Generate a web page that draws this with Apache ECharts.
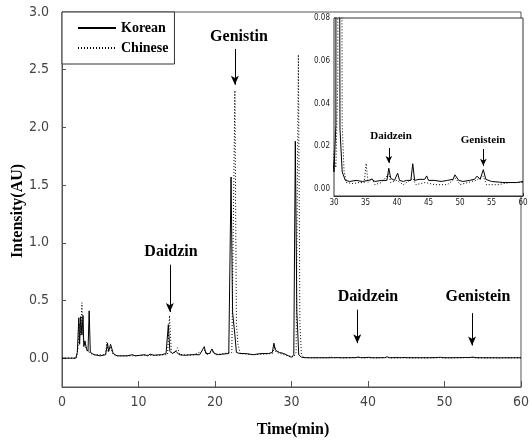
<!DOCTYPE html>
<html>
<head>
<meta charset="utf-8">
<script src="https://cdn.jsdelivr.net/npm/echarts@6/dist/echarts.min.js"></script>
<style>html,body{margin:0;padding:0;background:#fff}#c{width:532px;height:443px}</style>
</head>
<body>
<div id="c"></div>
<script>
// Korean (solid) chromatogram: [time(min), intensity(AU)]
const korean = [
 [0,0],[1.8,0],[2.0,0.05],[2.2,0.35],[2.3,0.12],[2.45,0.36],[2.6,0.2],[2.75,0.37],[2.85,0.1],[3.0,0.15],[3.2,0.08],
 [3.4,0.06],[3.55,0.41],[3.7,0.05],[4.2,0.03],[5.0,0.02],[5.7,0.03],[5.95,0.13],[6.1,0.06],[6.35,0.12],[6.7,0.04],
 [7.2,0.02],[8.5,0.02],[9.2,0.03],[9.6,0.02],[10.8,0.03],[11.2,0.02],[11.5,0.035],[12,0.025],[13,0.03],[13.6,0.04],
 [13.9,0.29],[14.1,0.06],[14.4,0.04],[14.9,0.06],[15.3,0.03],[16,0.025],[17,0.03],[18,0.03],[18.6,0.1],[18.8,0.04],
 [19.3,0.04],[19.6,0.08],[19.9,0.04],[20.5,0.03],[21,0.035],[21.8,0.04],[22.1,1.57],[22.3,0.4],[22.6,0.2],[22.8,0.05],
 [23.2,0.04],[24,0.04],[25,0.03],[26,0.04],[27,0.04],[27.5,0.05],[27.7,0.13],[27.9,0.07],[28.4,0.05],[29,0.04],
 [29.6,0.02],[30.0,0.008],[30.3,0.03],[30.5,1.88],[30.7,0.4],[30.95,0.028],[31.3,0.008],[31.8,0.004],[32.5,0.0035],
 [33.5,0.004],[34.5,0.0035],[35.5,0.004],[36,0.0045],[36.5,0.0035],[37.5,0.004],[38.4,0.004],[38.7,0.0097],[39,0.005],
 [39.6,0.004],[40.1,0.0074],[40.4,0.004],[41,0.0035],[41.5,0.004],[42.2,0.004],[42.5,0.0118],[42.8,0.004],[43.5,0.0045],
 [44.4,0.0045],[44.7,0.0061],[45,0.004],[46,0.004],[47,0.0035],[48,0.004],[48.9,0.0045],[49.2,0.0066],[49.5,0.0074],
 [49.8,0.004],[50.5,0.0035],[51.5,0.004],[52.3,0.0045],[52.7,0.006],[53.2,0.0045],[53.7,0.009],[54.1,0.0045],[55,0.0035],
 [57,0.003],[59,0.003],[60,0.0035]
];
// Chinese (dotted) chromatogram
const chinese = [
 [0,0],[1.9,0],[2.1,0.1],[2.3,0.3],[2.45,0.2],[2.6,0.48],[2.8,0.15],[3.0,0.12],[3.3,0.06],[3.6,0.05],[4,0.03],
 [5.7,0.03],[5.85,0.14],[6.05,0.05],[6.3,0.1],[6.6,0.04],[7,0.02],[9,0.02],[11,0.025],[12.5,0.025],[13.8,0.03],
 [14.05,0.37],[14.3,0.05],[14.8,0.05],[15.1,0.09],[15.4,0.03],[17,0.025],[18.7,0.07],[19,0.03],[19.8,0.06],[20.1,0.03],
 [22.2,0.05],[22.6,2.32],[22.8,0.3],[23.0,0.12],[23.3,0.04],[25,0.03],[27.5,0.04],[27.8,0.1],[28,0.05],[29,0.03],
 [30.3,0.01],[30.6,0.05],[30.9,2.63],[31.1,0.3],[31.3,0.03],[31.6,0.008],[32,0.003],[33,0.0025],[34,0.003],[34.8,0.003],
 [35.1,0.012],[35.4,0.003],[36,0.005],[36.5,0.002],[37.5,0.003],[38.7,0.007],[39,0.003],[40,0.004],[41,0.002],
 [42.5,0.005],[43,0.002],[44.5,0.003],[46,0.002],[48,0.002],[49.3,0.005],[50,0.002],[52.5,0.004],[53.7,0.006],
 [54.2,0.002],[56,0.002],[58,0.003],[60,0.003]
];
const mainYTicks = [0, 0.5, 1.0, 1.5, 2.0, 2.5, 3.0];
const insetYTicks = [0, 0.02, 0.04, 0.06, 0.08];
const seriesNames = ['Korean', 'Chinese'];

const axisColor = '#555';
const tickFont = "'Liberation Sans Narrow', 'DejaVu Sans Condensed', sans-serif";
const serif = "'Liberation Serif', 'DejaVu Serif', serif";
const solid = {color:'#000', width:1, type:'solid'};
const dotted = {color:'#000', width:1, type:[1,2]};

function arrow(x, y1, y2){ return [{coord:[x,y1]},{coord:[x,y2]}]; }

const chart = echarts.init(document.getElementById('c'), null, {renderer:'canvas'});
chart.setOption({
  animation:false,
  backgroundColor:'#fff',
  grid:[
    {left:62, right:2, top:12, bottom:56, show:true, borderColor:axisColor, borderWidth:1, backgroundColor:'#fff'},
    {left:334, right:9, top:18, bottom:247, show:true, borderColor:'#333', borderWidth:1, backgroundColor:'#fff', z:5}
  ],
  legend:{
    orient:'vertical', left:62, top:12, data:seriesNames,
    borderColor:'#333', borderWidth:1, backgroundColor:'#fff',
    padding:[9,6,9,15], itemGap:6, itemWidth:38, itemHeight:14,
    itemStyle:{opacity:0},
    textStyle:{fontFamily:serif, fontWeight:'bold', fontSize:14, color:'#000'}
  },
  xAxis:[
    {gridIndex:0, type:'value', min:0, max:60, interval:10,
     axisLine:{onZero:false, lineStyle:{color:axisColor}}, axisTick:{inside:true, length:6, lineStyle:{color:axisColor}},
     axisLabel:{fontFamily:tickFont, fontSize:14, color:'#444', margin:8}, splitLine:{show:false}},
    {gridIndex:1, type:'value', min:30, max:60, interval:5,
     axisLine:{onZero:false, lineStyle:{color:'#333'}}, axisTick:{inside:true, length:3, lineStyle:{color:'#333'}},
     axisLabel:{fontFamily:tickFont, fontSize:8, color:'#222', margin:3}, splitLine:{show:false}}
  ],
  yAxis:[
    {gridIndex:0, type:'value', min:-0.25, max:3.0,
     axisLine:{show:true, onZero:false, lineStyle:{color:axisColor}},
     axisTick:{show:true, inside:true, length:4, customValues:mainYTicks, lineStyle:{color:axisColor}},
     axisLabel:{customValues:mainYTicks, formatter:v=>v.toFixed(1), fontFamily:tickFont, fontSize:14, color:'#444', margin:13},
     splitLine:{show:false}},
    {gridIndex:1, type:'value', min:-0.0033, max:0.08,
     axisLine:{show:true, onZero:false, lineStyle:{color:'#333'}},
     axisTick:{show:false, customValues:insetYTicks},
     axisLabel:{customValues:insetYTicks, formatter:v=>v.toFixed(2), fontFamily:tickFont, fontSize:8, color:'#222', margin:4},
     splitLine:{show:false}}
  ],
  series:[
    {name:'Korean', type:'line', xAxisIndex:0, yAxisIndex:0, data:korean, symbol:'none', showSymbol:false, lineStyle:solid, itemStyle:{color:'#000'}, z:3,
     markLine:{silent:true, symbol:['none','arrow'], symbolSize:[6,9], label:{show:false}, lineStyle:{color:'#000', width:1, type:'solid'},
       data:[arrow(14.1,0.81,0.40), arrow(22.6,2.68,2.37), arrow(38.6,0.42,0.13), arrow(53.6,0.39,0.11)]}},
    {name:'Chinese', type:'line', xAxisIndex:0, yAxisIndex:0, data:chinese, symbol:'none', showSymbol:false, lineStyle:dotted, itemStyle:{color:'#000'}, z:2},
    {name:'Korean', type:'line', xAxisIndex:1, yAxisIndex:1, data:korean, symbol:'none', showSymbol:false, lineStyle:solid, itemStyle:{color:'#000'}, clip:true, z:7,
     markLine:{silent:true, symbol:['none','arrow'], symbolSize:[5,7], label:{show:false}, lineStyle:{color:'#000', width:1, type:'solid'},
       data:[arrow(38.7,0.0192,0.0122), arrow(53.7,0.0187,0.0108)]}},
    {name:'Chinese', type:'line', xAxisIndex:1, yAxisIndex:1, data:chinese, symbol:'none', showSymbol:false, lineStyle:dotted, itemStyle:{color:'#000'}, clip:true, z:6}
  ],
  graphic:[
    {type:'text', x:18, y:211, rotation:Math.PI/2, style:{text:'Intensity(AU)', font:"bold 16px "+serif, fill:'#000', align:'center', verticalAlign:'middle'}},
    {type:'text', x:293, y:430, style:{text:'Time(min)', font:"bold 16px "+serif, fill:'#000', align:'center', verticalAlign:'middle'}},
    {type:'text', x:171, y:252, style:{text:'Daidzin', font:"bold 16px "+serif, fill:'#000', align:'center', verticalAlign:'middle'}},
    {type:'text', x:239, y:37, style:{text:'Genistin', font:"bold 16px "+serif, fill:'#000', align:'center', verticalAlign:'middle'}},
    {type:'text', x:368, y:297, style:{text:'Daidzein', font:"bold 16px "+serif, fill:'#000', align:'center', verticalAlign:'middle'}},
    {type:'text', x:478, y:297, style:{text:'Genistein', font:"bold 16px "+serif, fill:'#000', align:'center', verticalAlign:'middle'}},
    {type:'text', x:391, y:136, z:10, style:{text:'Daidzein', font:"bold 11px "+serif, fill:'#000', align:'center', verticalAlign:'middle'}},
    {type:'text', x:483, y:140, z:10, style:{text:'Genistein', font:"bold 11px "+serif, fill:'#000', align:'center', verticalAlign:'middle'}}
  ]
});
</script>
</body>
</html>
